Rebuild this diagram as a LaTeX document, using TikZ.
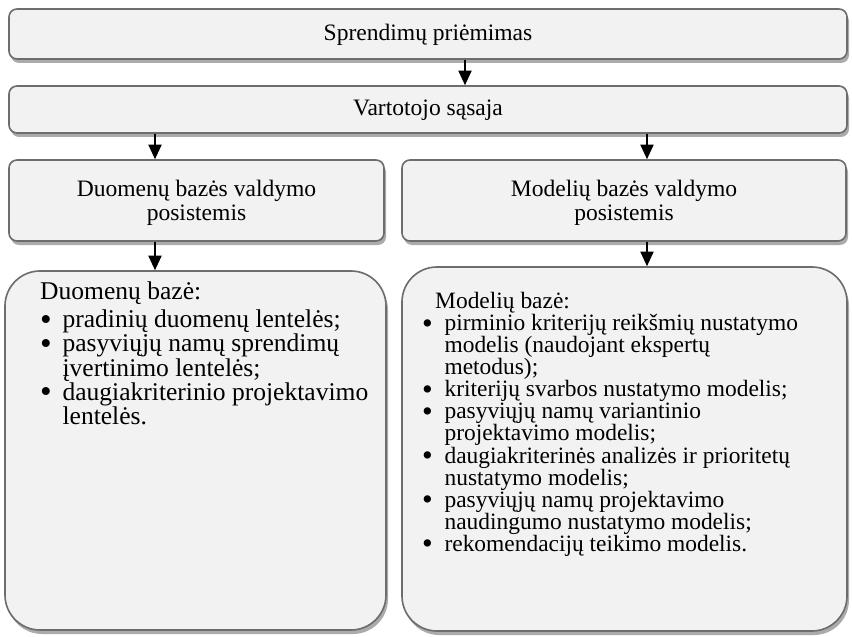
\documentclass[tikz,border=0pt]{standalone}
\usepackage{fontspec}
\setmainfont{Liberation Serif}
\usepackage{tikz}
\usetikzlibrary{arrows.meta,shadows,positioning}
\definecolor{panelfill}{HTML}{F2F2F2}
\definecolor{panelline}{HTML}{6D6D6D}
\definecolor{shade}{HTML}{ABABAB}
\newcommand{\bul}{\makebox[0.67cm][l]{\raisebox{-0.1em}{\scalebox{1.3}{\textbullet}}}}
\newcommand{\nobul}{\hspace*{0.67cm}}
\newcommand{\tightlines}{\lineskiplimit=-20pt\relax}
\tikzset{
  panel/.style={
    draw=panelline, line width=1.4pt, fill=panelfill, rounded corners=0.24cm,
    drop shadow={shadow xshift=0.06cm, shadow yshift=-0.12cm, fill=shade, opacity=1},
    inner sep=0pt, align=center, font=\fontsize{20.1}{20.5}\selectfont
  },
  oneline/.style={align=none, text height=1.2em, text depth=0.15em},
  twoline/.style={text depth=0pt},
  bigpanel/.style={panel, rounded corners=1.05cm},
  flow/.style={-{Triangle[length=4.4mm,width=4mm]}, draw=black, line width=1.1pt},
  leftlist/.style={anchor=north west, inner sep=0pt, align=left,
    font=\fontsize{21.8}{20.7}\selectfont\tightlines},
  rightlist/.style={anchor=north west, inner sep=0pt, align=left,
    font=\fontsize{20}{18.8}\selectfont\tightlines}
}

\begin{document}
\begin{tikzpicture}[x=1cm,y=1cm]
  \useasboundingbox (0,0) rectangle (25.56,-19.11);

  \node[panel, oneline, minimum width=25.14cm, minimum height=1.5cm] (decision) at (12.84,-1.02) {Sprendimų priėmimas};
  \node[panel, oneline, minimum width=25.14cm, minimum height=1.41cm] (ui) at (12.84,-3.285) {Vartotojo sąsaja};

  \node[panel, twoline, minimum width=11.25cm, minimum height=2.43cm] (dbms) at (5.895,-6.015) {Duomenų bazės valdymo\\posistemis};
  \node[panel, twoline, minimum width=13.32cm, minimum height=2.43cm] (mbms) at (18.72,-6.015) {Modelių bazės valdymo\\posistemis};

  \node[bigpanel, minimum width=11.43cm, minimum height=10.77cm] (db) at (5.865,-13.515) {};
  \node[bigpanel, minimum width=13.35cm, minimum height=10.92cm] (mb) at (18.735,-13.47) {};

  \node[leftlist] (dbtext) at (1.2,-8.46) {Duomenų bazė:\\[0.1cm]
    \bul pradinių duomenų lentelės;\\
    \bul pasyviųjų namų sprendimų\\
    \nobul įvertinimo lentelės;\\
    \bul daugiakriterinio projektavimo\\
    \nobul lentelės.};
  \node[rightlist] (mbtext) at (12.66,-8.77) {\hspace*{0.39cm}Modelių bazė:\\
    \bul pirminio kriterijų reikšmių nustatymo\\
    \nobul modelis (naudojant ekspertų\\
    \nobul metodus);\\
    \bul kriterijų svarbos nustatymo modelis;\\
    \bul pasyviųjų namų variantinio\\
    \nobul projektavimo modelis;\\
    \bul daugiakriterinės analizės ir prioritetų\\
    \nobul nustatymo modelis;\\
    \bul pasyviųjų namų projektavimo\\
    \nobul naudingumo nustatymo modelis;\\
    \bul rekomendacijų teikimo modelis.};

  \draw[flow] (decision.south -| 13.95,0) -- (ui.north -| 13.95,0);
  \draw[flow] (ui.south -| 4.65,0) -- (dbms.north -| 4.65,0);
  \draw[flow] (ui.south -| 19.41,0) -- (mbms.north -| 19.41,0);
  \draw[flow] (dbms.south -| 4.65,0) -- (db.north -| 4.65,0);
  \draw[flow] (mbms.south -| 19.41,0) -- (mb.north -| 19.41,0);
\end{tikzpicture}
\end{document}
